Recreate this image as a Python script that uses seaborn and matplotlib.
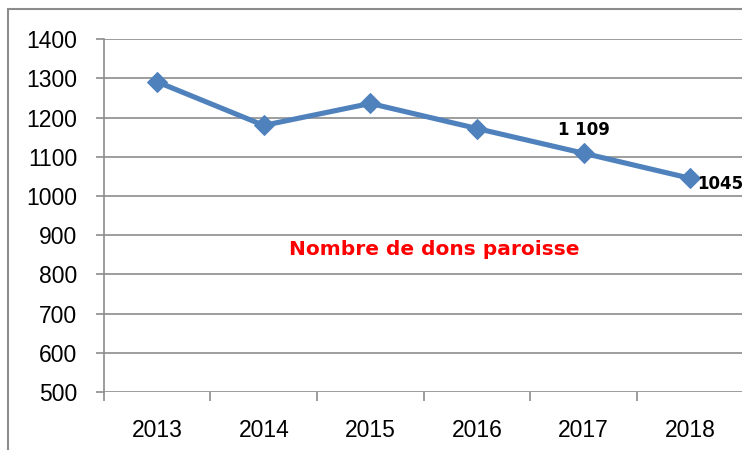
import seaborn as sns
import matplotlib.pyplot as plt
import pandas as pd
from matplotlib.patches import Rectangle

years = ["2013", "2014", "2015", "2016", "2017", "2018"]
dons = [1291, 1180, 1236, 1172, 1109, 1045]
title = "Nombre de dons paroisse"

sns.set_style("white")
plt.rcParams['font.family'] = ['Liberation Sans', 'DejaVu Sans']

df = pd.DataFrame({"pos": range(len(years)), "dons": dons})

fig = plt.figure(figsize=(7.42, 4.5), dpi=100)
ax = fig.add_axes([0.140, 0.129, 0.862, 0.784])

sns.lineplot(data=df, x="pos", y="dons", ax=ax, color="#4F81BD", linewidth=3.7,
             marker="D", markersize=10.5, markeredgecolor="#4F81BD")

ax.set_xlim(-0.5, len(years) - 0.5)
ax.set_ylim(500, 1400)
ax.set_yticks(range(500, 1401, 100))
ax.yaxis.grid(True, color="#8c8c8c", linewidth=1.2)
ax.set_axisbelow(True)

ax.set_xticks(range(len(years)), years)
ax.set_xticks([i - 0.5 for i in range(len(years) + 1)], minor=True)
ax.tick_params(axis="x", which="major", bottom=False, pad=16, labelsize=16.5,
               labelcolor="black")
ax.tick_params(axis="x", which="minor", bottom=True, length=6.5, width=1.2,
               color="#8c8c8c")
ax.tick_params(axis="y", left=True, length=6, width=1.2, color="#8c8c8c",
               labelsize=16.5, pad=13, labelcolor="black")
ax.set_xlabel("")
ax.set_ylabel("")

for side in ["top", "right", "bottom"]:
    ax.spines[side].set_visible(False)
ax.spines["left"].set_color("#8c8c8c")
ax.spines["left"].set_linewidth(1.2)

ax.annotate("1 109", (4, dons[4]), xytext=(0, 10), textcoords="offset points",
            ha="center", va="bottom", fontsize=12, fontweight="bold",
            family="DejaVu Sans", color="black")
ax.annotate(str(dons[5]), (5, dons[5]), xytext=(5, -4), textcoords="offset points",
            ha="left", va="center", fontsize=12, fontweight="bold",
            family="DejaVu Sans", color="black", annotation_clip=False)

ax.text(0.516, 0.405, title, transform=ax.transAxes, ha="center", va="center",
        color="#FF0000", fontsize=14.5, fontweight="bold", family="DejaVu Sans")

fig.patches.append(Rectangle((0.0108, -0.1), 1.2, 1.08, transform=fig.transFigure,
                             fill=False, edgecolor="#8c8c8c", linewidth=1.5))

fig.savefig("out.png", dpi=100)
